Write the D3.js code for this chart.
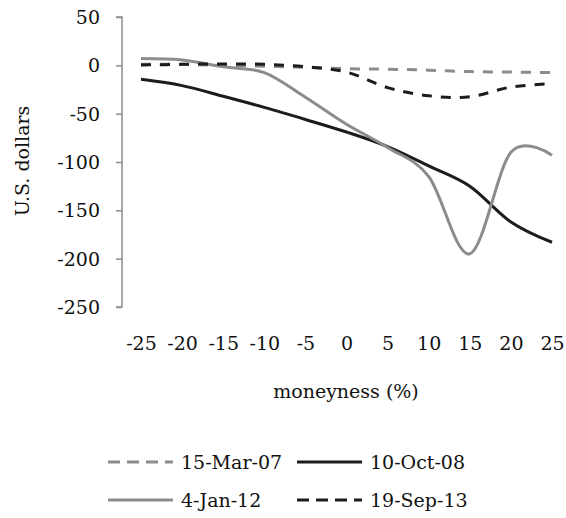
<!DOCTYPE html>
<html>
<head>
<meta charset="utf-8">
<script src="https://cdn.jsdelivr.net/npm/d3@7"></script>
<style>
  html, body { margin: 0; padding: 0; background: #fff; }
  text { font-family: "DejaVu Serif", serif; fill: #111; }
</style>
</head>
<body>
<svg id="chart" width="566" height="518"></svg>
<script>
const moneyness = [-25, -20, -15, -10, -5, 0, 5, 10, 15, 20, 25];
const yTicks = [50, 0, -50, -100, -150, -200, -250];
const mar07 = [1, 1, 0, -1, -2, -3.5, -4, -5, -6.5, -7, -7.5];
const oct08 = [-14.5, -21, -32, -43.5, -56, -69, -84, -104, -125, -162, -183];
const jan12 = [7, 5.5, -1.5, -7.5, -33, -61, -85, -115, -195, -90, -93];
const sep13 = [0.3, 1, 1.5, 1, -1.5, -7, -23, -31.5, -32.5, -22.5, -19];
const seriesNames = ["15-Mar-07", "10-Oct-08", "4-Jan-12", "19-Sep-13"];

const gray = "#8c8c8c", black = "#1c1c1c";
const series = [
  {name: seriesNames[0], values: mar07, color: gray, dash: "10,9"},
  {name: seriesNames[1], values: oct08, color: black, dash: null},
  {name: seriesNames[2], values: jan12, color: gray, dash: null},
  {name: seriesNames[3], values: sep13, color: black, dash: "10,9"}
];

const svg = d3.select("#chart");
const x = d3.scalePoint().domain(moneyness).range([141, 552]);
const y = d3.scaleLinear().domain([-250, 50]).range([307, 17]);
const fs = 19;

// y axis
const yAxis = svg.append("g").attr("transform", "translate(122,0)")
  .call(d3.axisLeft(y).tickValues(yTicks).tickSize(6).tickPadding(0).tickFormat(d => d));
yAxis.select(".domain").attr("stroke", gray).attr("stroke-width", 1.5)
  .attr("d", `M-6,${y(50)}H0V${y(-250)}H-6`);
yAxis.selectAll(".tick line").attr("stroke", gray).attr("stroke-width", 1.5);
yAxis.selectAll(".tick text").attr("x", -22).attr("dy", "0.35em")
  .style("font-size", fs + "px").style("font-family", "DejaVu Serif").attr("fill", "#111");

// x axis (labels only)
const xAxis = svg.append("g").attr("transform", "translate(0,343)")
  .call(d3.axisBottom(x).tickSize(0).tickPadding(0).tickFormat(d => d));
xAxis.select(".domain").remove();
xAxis.selectAll(".tick text").attr("y", 0).attr("dy", "0.35em")
  .style("font-size", fs + "px").style("font-family", "DejaVu Serif").attr("fill", "#111");

// axis titles
svg.append("text").attr("transform", "translate(29,161) rotate(-90)")
  .attr("text-anchor", "middle").style("font-size", fs + "px").text("U.S. dollars");
svg.append("text").attr("x", 346).attr("y", 398)
  .attr("text-anchor", "middle").style("font-size", fs + "px").text("moneyness (%)");

// lines
const line = d3.line().x((d, i) => x(moneyness[i])).y(d => y(d))
  .curve(d3.curveCardinal.tension(0));
series.forEach(s => {
  svg.append("path").datum(s.values).attr("d", line)
    .attr("fill", "none").attr("stroke", s.color).attr("stroke-width", 3)
    .attr("stroke-dasharray", s.dash);
});

// legend
const legendPos = [[108, 462], [297, 462], [108, 500], [297, 500]];
series.forEach((s, i) => {
  const [lx, ly] = legendPos[i];
  svg.append("line").attr("x1", lx).attr("x2", lx + 65).attr("y1", ly).attr("y2", ly)
    .attr("stroke", s.color).attr("stroke-width", 3).attr("stroke-dasharray", s.dash ? "12,7" : null);
  svg.append("text").attr("x", lx + 73).attr("y", ly).attr("dy", "0.35em")
    .style("font-size", fs + "px").text(s.name);
});
</script>
</body>
</html>
